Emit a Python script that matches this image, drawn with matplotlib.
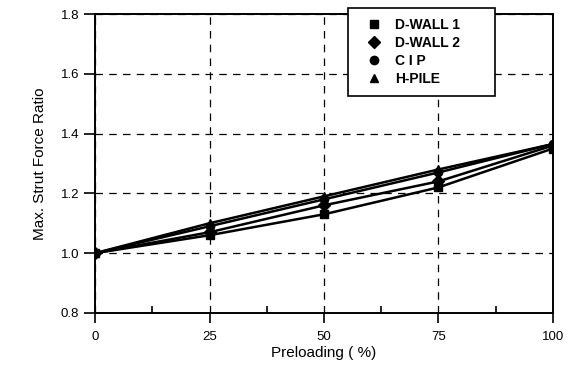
import matplotlib
matplotlib.use("Agg")
import matplotlib.pyplot as plt
from matplotlib.ticker import MultipleLocator

plt.rcParams['font.family'] = ['Liberation Sans', 'DejaVu Sans']

preload = [0, 25, 50, 75, 100]
dwall1 = [1.00, 1.06, 1.13, 1.22, 1.35]
dwall2 = [1.00, 1.07, 1.16, 1.24, 1.36]
cip = [1.00, 1.09, 1.18, 1.27, 1.365]
hpile = [1.00, 1.10, 1.19, 1.28, 1.365]

fig = plt.figure(figsize=(5.7, 3.69), dpi=100)
ax = fig.add_axes([0.167, 0.152, 0.803, 0.81])

ax.plot(preload, dwall1, 'k-', marker='s', ms=6, lw=1.8, label='D-WALL 1')
ax.plot(preload, dwall2, 'k-', marker='D', ms=6, lw=1.8, label='D-WALL 2')
ax.plot(preload, cip, 'k-', marker='o', ms=6, lw=1.8, label='C I P')
ax.plot(preload, hpile, 'k-', marker='^', ms=6, lw=1.8, label='H-PILE')

ax.set_xlim(0, 100)
ax.set_ylim(0.8, 1.8)
ax.set_xticks(preload)
ax.set_yticks([0.8, 1.0, 1.2, 1.4, 1.6, 1.8])
ax.set_yticklabels(['0.8', '1.0', '1.2', '1.4', '1.6', '1.8'])
ax.xaxis.set_minor_locator(MultipleLocator(12.5))
ax.tick_params(axis='x', which='major', direction='out', length=7, width=1.2,
               labelsize=9.5, pad=6)
ax.tick_params(axis='x', which='minor', direction='in', length=5, width=1.2)
ax.tick_params(axis='y', direction='out', length=8, width=1.2, labelsize=9.5)
ax.grid(True, which='major', color='k', ls=(0, (6, 5)), lw=0.9)
for s in ax.spines.values():
    s.set_linewidth(1.4)

ax.set_xlabel('Preloading ( %)', fontsize=11, labelpad=2)
ax.set_ylabel('Max. Strut Force Ratio', fontsize=11, labelpad=10)

# legend box sits a bit above the top of the axes, like the original
leg = ax.legend(loc='upper left', bbox_to_anchor=(0.552, 1.02, 0.321, 0.0),
                mode='expand', borderaxespad=0,
                prop={'size': 10, 'weight': 'bold'}, frameon=True,
                fancybox=False, edgecolor='k',
                handlelength=2.4, handletextpad=0.3, labelspacing=0.3,
                borderpad=0.7)
for h in leg.legend_handles:
    h.set_linestyle('')
leg.get_frame().set_linewidth(1.2)
leg.get_frame().set_alpha(1)
leg.set_zorder(5)

fig.savefig('out.png', dpi=100)
